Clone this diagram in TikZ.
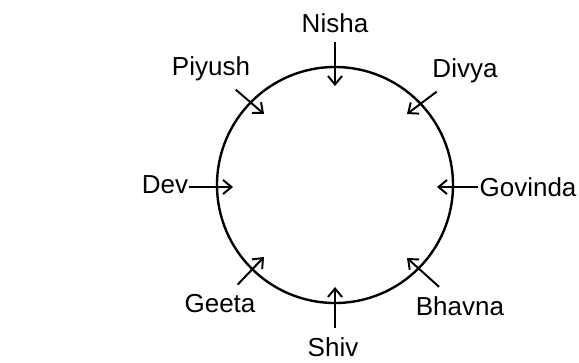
\documentclass[tikz,border=0pt]{standalone}
\usepackage{fontspec}
\setmainfont{Liberation Sans}
\usepackage{tikz}
\usetikzlibrary{arrows.meta}

\tikzset{
	person/.style={anchor=base,inner xsep=0.7pt,inner ysep=6.4pt,font=\fontsize{18.5}{22}\selectfont},
	seat/.style={-{Straight Barb[length=6pt,width=10pt,line width=1.4pt]},line width=1.4pt}
}

\begin{document}
\begin{tikzpicture}[x=0.025cm,y=-0.025cm]
	\useasboundingbox (0,0) rectangle (579,362);
	% the round table
	\draw [line width=1.7pt] (335,185) circle(118);
	% people around it
	\node [person] (nisha) at (335,32) {Nisha};
	\node [person] (divya) at (465,77) {Divya};
	\node [person] (govinda) at (528,196) {Govinda};
	\node [person] (bhavna) at (460,315) {Bhavna};
	\node [person] (shiv) at (333,356) {Shiv};
	\node [person] (geeta) at (220,312) {Geeta};
	\node [person] (dev) at (165,193) {Dev};
	\node [person] (piyush) at (211,75) {Piyush};
	% where they face
	\coordinate (nisha-in) at (335,86);
	\coordinate (divya-in) at (407,114);
	\coordinate (govinda-in) at (437,187);
	\coordinate (bhavna-in) at (407,258);
	\coordinate (shiv-in) at (335,287);
	\coordinate (geeta-in) at (264,257);
	\coordinate (dev-in) at (233,187);
	\coordinate (piyush-in) at (264,114);
	\draw [seat] (nisha) -- (nisha-in);
	\draw [seat] (divya) -- (divya-in);
	\draw [seat] (govinda.west |- govinda-in) -- (govinda-in);
	\draw [seat] (bhavna) -- (bhavna-in);
	\draw [seat] (shiv.north -| shiv-in) -- (shiv-in);
	\draw [seat] (geeta) -- (geeta-in);
	\draw [seat] (dev.east |- dev-in) -- (dev-in);
	\draw [seat] (piyush) -- (piyush-in);
\end{tikzpicture}
\end{document}
